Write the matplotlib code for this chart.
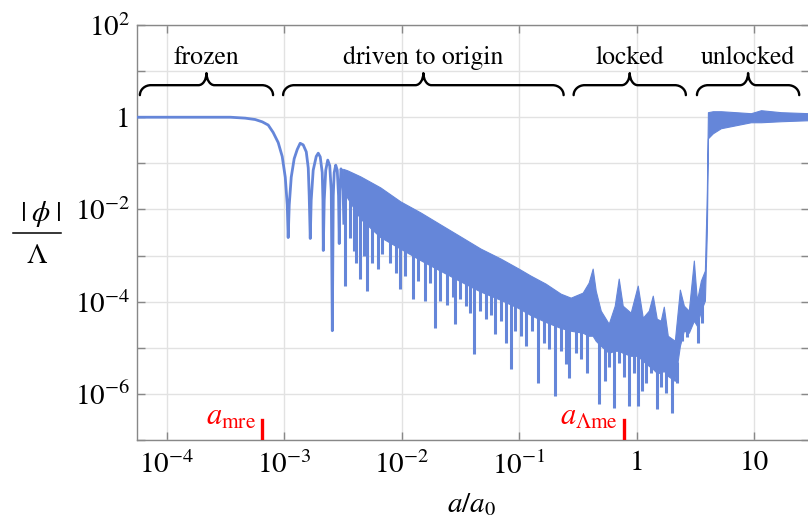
import numpy as np
import matplotlib
matplotlib.use("Agg")
import matplotlib.pyplot as plt
from matplotlib.path import Path
from matplotlib.patches import PathPatch
from matplotlib.lines import Line2D
from matplotlib.transforms import IdentityTransform

plt.rcParams['font.family'] = ['STIXGeneral', 'DejaVu Serif']
plt.rcParams['mathtext.fontset'] = 'stix'

# --- data (log10 of a/a0 and of |phi|/Lambda) ---
# frozen plateau + first separated oscillation lobes
early_logx = [-4.26, -3.80, -3.46, -3.334, -3.249, -3.189, -3.138, -3.096, -3.053,
              -3.019, -2.993, -2.976, -2.968,
              -2.959, -2.942, -2.917, -2.891, -2.866, -2.840, -2.814, -2.797, -2.789, -2.780,
              -2.772, -2.755, -2.729, -2.712, -2.695, -2.678, -2.672, -2.669,
              -2.661, -2.648, -2.631, -2.614, -2.601, -2.592,
              -2.584, -2.576, -2.563, -2.550, -2.539, -2.533,
              -2.527, -2.518, -2.508, -2.500, -2.494]
early_logy = [0.0, 0.0, 0.0, -0.02, -0.05, -0.10, -0.17, -0.33, -0.55,
              -0.85, -1.30, -1.90, -2.61,
              -1.90, -1.30, -0.90, -0.70, -0.565, -0.60, -0.75, -1.10, -1.70, -2.63,
              -1.80, -1.15, -0.85, -0.78, -0.86, -1.20, -1.80, -2.89,
              -1.80, -1.15, -0.93, -1.05, -1.60, -4.63,
              -1.70, -1.20, -1.04, -1.15, -1.70, -2.74,
              -1.60, -1.12, -1.20, -1.60, -2.30]

# dense oscillating band: upper and lower edge of the filled area
band_logx = [-2.500, -2.464, -2.353, -2.183, -2.012, -1.841, -1.671, -1.500, -1.330,
             -1.159, -1.005, -0.903, -0.775, -0.647, -0.561, -0.459, -0.408, -0.374,
             -0.348, -0.305, -0.237, -0.186, -0.152, -0.118, -0.050, 0.010, 0.053,
             0.104, 0.138, 0.172, 0.206, 0.232, 0.266, 0.326, 0.369, 0.403, 0.445,
             0.488, 0.514, 0.548, 0.582, 0.599, 0.608, 0.650, 0.718, 0.846, 0.974,
             1.060, 1.230, 1.469]
band_top = [-1.120, -1.152, -1.283, -1.522, -1.826, -2.065, -2.326, -2.587, -2.848,
            -3.065, -3.283, -3.435, -3.609, -3.826, -3.913, -3.804, -3.587, -3.283,
            -3.761, -4.196, -4.478, -4.087, -3.500, -4.087, -4.239, -3.652, -4.348,
            -4.196, -3.870, -4.370, -4.413, -4.109, -4.739, -4.848, -3.739, -4.087,
            -4.196, -3.109, -3.978, -3.543, -3.326, -1.587, 0.109, 0.130, 0.130,
            0.109, 0.087, 0.152, 0.109, 0.087]
band_bot = [-1.500, -1.750, -2.200, -2.600, -2.850, -3.100, -3.330, -3.560, -3.780,
            -3.960, -4.140, -4.290, -4.440, -4.570, -4.630, -4.674, -4.739, -4.739,
            -4.848, -4.957, -5.109, -5.065, -5.065, -5.109, -5.174, -5.174, -5.283,
            -5.391, -5.457, -5.543, -5.543, -5.500, -5.609, -5.717, -4.957, -4.630,
            -4.674, -4.413, -4.522, -4.196, -3.978, -2.457, -0.457, -0.348, -0.239,
            -0.174, -0.109, -0.109, -0.087, -0.065]

# deep downward spikes below the band
spike_logx = [-2.481, -2.439, -2.410, -2.388, -2.353, -2.320, -2.294, -2.251, -2.200,
              -2.166, -2.097, -2.046, -2.012, -1.969, -1.901, -1.858, -1.799, -1.756,
              -1.713, -1.671, -1.611, -1.568, -1.543, -1.500, -1.449, -1.415, -1.381,
              -1.330, -1.287, -1.244, -1.202, -1.159, -1.116, -1.073, -1.039, -0.988,
              -0.945, -0.894, -0.843, -0.792, -0.749, -0.698, -0.647, -0.604, -0.579,
              -0.519, -0.476, -0.425, -0.323, -0.271, -0.237, -0.195, -0.152, -0.109,
              -0.067, -0.024, 0.010, 0.044, 0.078, 0.121, 0.172, 0.206, 0.249, 0.300,
              0.343, 0.386, 0.428, 0.522, 0.556]
spike_logy = [-3.652, -2.609, -2.900, -3.152, -3.500, -3.000, -3.761, -3.152, -3.283,
              -2.957, -3.152, -3.370, -3.717, -3.435, -3.935, -3.543, -3.978, -3.587,
              -4.565, -3.978, -4.065, -3.891, -4.478, -3.935, -4.087, -4.239, -5.130,
              -4.196, -4.370, -4.283, -4.696, -4.413, -4.891, -5.457, -4.630, -4.739,
              -4.957, -4.630, -5.761, -4.891, -5.022, -6.043, -5.065, -5.348, -5.652,
              -5.109, -5.239, -5.543, -6.217, -5.717, -5.413, -6.304, -5.326, -5.630,
              -6.261, -5.543, -6.261, -5.935, -5.761, -5.543, -6.326, -5.848, -5.978,
              -6.413, -5.761, -4.848, -4.761, -4.891, -4.457]

# regimes marked with braces
region_names = ["frozen", "driven to origin", "locked", "unlocked"]
region_start = [5.87e-5, 9.75e-4, 0.291, 3.27]
region_end = [8.0e-4, 0.239, 2.63, 24.3]

# marked scale factors
marker_x = [6.44e-4, 0.776]
marker_labels = [r"$a_{\rm mre}$", r"$a_{\Lambda{\rm me}}$"]

x_ticks = [1e-4, 1e-3, 1e-2, 1e-1, 1, 10]
x_labels = [r"$10^{-4}$", r"$10^{-3}$", r"$10^{-2}$", r"$10^{-1}$", "1", "10"]
y_ticks = [1e-7, 1e-6, 1e-5, 1e-4, 1e-3, 1e-2, 1e-1, 1, 10, 100]
y_labels = ["", r"$10^{-6}$", "", r"$10^{-4}$", "", r"$10^{-2}$", "", "1", "", r"$10^{2}$"]

blue = "#6586d9"

fig = plt.figure(figsize=(8.08, 5.21), dpi=100)
ax = fig.add_axes([137 / 808, 81 / 521, 672 / 808, 415 / 521])
ax.set_xscale("log")
ax.set_yscale("log")
ax.set_xlim(10 ** -4.256, 10 ** 1.469)
ax.set_ylim(1e-7, 1e2)

ax.set_xticks(x_ticks)
ax.set_xticklabels(x_labels)
ax.set_yticks(y_ticks)
ax.set_yticklabels(y_labels)
ax.minorticks_off()
ax.tick_params(which="major", direction="in", length=6, width=1, color="#888888",
               top=True, right=True, labelsize=21)
ax.tick_params(axis="x", pad=8)
ax.tick_params(axis="y", pad=5)
ax.grid(True, color="#e2e2e2", lw=1.0)
ax.set_axisbelow(True)
for s in ax.spines.values():
    s.set_color("#888888")
    s.set_linewidth(1.0)

# curve
bx = 10.0 ** np.array(band_logx)
ax.fill_between(bx, 10.0 ** np.array(band_bot), 10.0 ** np.array(band_top),
                color=blue, lw=0.8, zorder=3)
sx = np.array(spike_logx)
ax.vlines(10.0 ** sx, 10.0 ** np.array(spike_logy),
          10.0 ** (np.interp(sx, band_logx, band_bot) + 0.1),
          color=blue, lw=2.2, zorder=3)
ax.plot(10.0 ** np.array(early_logx), 10.0 ** np.array(early_logy),
        color=blue, lw=2.0, zorder=4, solid_joinstyle="round")

# red markers
for xm, lab in zip(marker_x, marker_labels):
    ax.axvline(xm, ymin=0, ymax=0.048, color="red", lw=2.4, zorder=5)
    ax.annotate(lab, xy=(xm, 0), xycoords=("data", "axes fraction"),
                xytext=(-6, 15), textcoords="offset pixels",
                ha="right", va="baseline", color="red", fontsize=22)


# braces above the curve
def brace(x0, x1, y_end=0.831, y_arm=0.855, y_tip=0.884, r=11, rt=8):
    X0 = ax.transData.transform((x0, 1))[0]
    X1 = ax.transData.transform((x1, 1))[0]
    Xm = ax.transData.transform((np.sqrt(x0 * x1), 1))[0]
    Ye = ax.transAxes.transform((0, y_end))[1]
    Ya = ax.transAxes.transform((0, y_arm))[1]
    Yt = ax.transAxes.transform((0, y_tip))[1]
    h = Ya - Ye
    ht = Yt - Ya
    verts = [(X0, Ye),
             (X0, Ye + 0.55 * h), (X0 + 0.45 * r, Ya), (X0 + r, Ya),
             (Xm - rt, Ya),
             (Xm - 0.45 * rt, Ya), (Xm, Ya + 0.45 * ht), (Xm, Yt),
             (Xm, Ya + 0.45 * ht), (Xm + 0.45 * rt, Ya), (Xm + rt, Ya),
             (X1 - r, Ya),
             (X1 - 0.45 * r, Ya), (X1, Ye + 0.55 * h), (X1, Ye)]
    codes = [Path.MOVETO,
             Path.CURVE4, Path.CURVE4, Path.CURVE4,
             Path.LINETO,
             Path.CURVE4, Path.CURVE4, Path.CURVE4,
             Path.CURVE4, Path.CURVE4, Path.CURVE4,
             Path.LINETO,
             Path.CURVE4, Path.CURVE4, Path.CURVE4]
    patch = PathPatch(Path(verts, codes), transform=IdentityTransform(),
                      fill=False, lw=1.7, color="black", capstyle="round",
                      joinstyle="round", zorder=6)
    fig.add_artist(patch)
    return np.sqrt(x0 * x1)


for name, x0, x1 in zip(region_names, region_start, region_end):
    xc = brace(x0, x1)
    ax.text(xc, 0.906, name, transform=ax.get_xaxis_transform(),
            ha="center", va="baseline", fontsize=18.5, zorder=6)

# axis labels
fig.text(472 / 808, 1 - 505 / 521, r"$a/a_0$", ha="center", va="center", fontsize=21)
fig.text(41 / 808, 1 - 214 / 521, r"$|\;\phi\;|$", ha="center", va="center", fontsize=21)
fig.add_artist(Line2D([13 / 808, 61 / 808], [1 - 233 / 521, 1 - 233 / 521],
                      transform=fig.transFigure, color="black", lw=1.1))
fig.text(37 / 808, 1 - 256 / 521, r"$\Lambda$", ha="center", va="center", fontsize=21)

fig.savefig("out.png", dpi=100)
